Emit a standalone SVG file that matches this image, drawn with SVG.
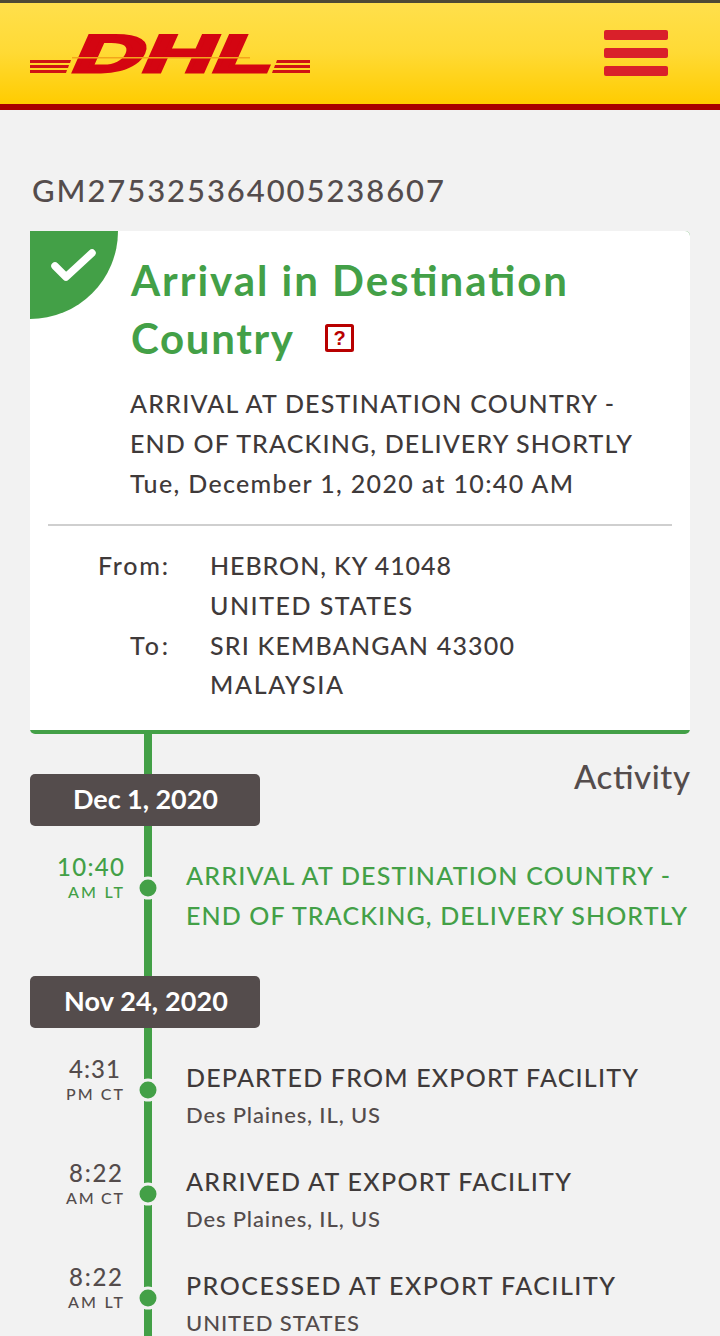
<svg xmlns="http://www.w3.org/2000/svg" width="720" height="1336" viewBox="0 0 720 1336">
<defs>
<linearGradient id="hdr" x1="0" y1="0" x2="0" y2="1"><stop offset="0" stop-color="#ffe04d"/><stop offset="0.5" stop-color="#ffda35"/><stop offset="1" stop-color="#ffcc00"/></linearGradient>
</defs>
<style>
text{font-family:"Lato","Open Sans",sans-serif;fill:#544c4c;font-weight:500}
.g{fill:#43a047}
.dk{fill:#3f3a3a}
.ttl{font-size:42px;font-weight:700;fill:#43a047}
.b{font-size:25px;fill:#3f3a3a}
.ev{font-size:25px}
.sub{font-size:22px}
.tm{font-size:24px}
.z{font-size:16px}
.pill{fill:#544c4c}
.pt{font-size:27px;fill:#fff;font-weight:700}
.dot{fill:#43a047;stroke:#f2f2f2;stroke-width:3}
.str{fill:#cf1414}
</style>
<rect width="720" height="1336" fill="#f2f2f2"/>
<g id="header">
<rect width="720" height="104" fill="url(#hdr)"/>
<rect width="720" height="3" fill="#4e4a35"/>
<rect y="104" width="720" height="6" fill="#a80000"/>
</g>
<g id="logo">
<text transform="translate(68 72) skewX(-24)" x="0" y="0" font-size="53" textLength="200" lengthAdjust="spacingAndGlyphs" style="font-family:'Liberation Sans',sans-serif;font-weight:700;fill:#d40511;stroke:#d40511;stroke-width:3">DHL</text>
<rect x="72" y="57" width="178" height="1.500" fill="#f3a51c"/>
<path class="str" d="M30 60h41l-1 3H30zM30 65h39l-1 3H30zM30 70h37l-1 3H30zM277 60h33v3h-34zM275 65h35v3h-36zM273 70h37v3h-38z"/>
</g>
<g id="menu">
<rect x="604" y="30" width="64" height="10" rx="2" fill="#d9202a"/>
<rect x="604" y="48" width="64" height="10" rx="2" fill="#d9202a"/>
<rect x="604" y="66" width="64" height="10" rx="2" fill="#d9202a"/>
</g>
<g id="tracking"><text x="32" y="202" font-size="31" textLength="412">GM275325364005238607</text></g>
<g id="connectors">
<rect x="144" y="730" width="8" height="606" fill="#43a047"/>
</g>
<g id="card">
<rect x="30" y="231" width="660" height="503" rx="5" fill="#43a047"/>
<path d="M35 231H685a5 5 0 0 1 5 5V730H30V236a5 5 0 0 1 5-5z" fill="#fff"/>
<path d="M30 231H118A88 88 0 0 1 30 319z" fill="#43a047"/>
<path d="M55 266l11 11 26-24" fill="none" stroke="#fff" stroke-width="7.500" stroke-linecap="round" stroke-linejoin="round"/>
<text class="ttl" x="131" y="296" textLength="436">Arrival in Destination</text>
<text class="ttl" x="131" y="354" textLength="162">Country</text>
<rect x="326.500" y="325.500" width="26" height="25" rx="1" fill="#fff" stroke="#b80000" stroke-width="3"/>
<text x="339.500" y="345" font-size="20" text-anchor="middle" style="fill:#b80000;font-weight:900;font-family:'Liberation Sans',sans-serif">?</text>
<text class="b" x="130" y="413" textLength="484">ARRIVAL AT DESTINATION COUNTRY -</text>
<text class="b" x="130" y="453" textLength="502">END OF TRACKING, DELIVERY SHORTLY</text>
<text class="b" x="130" y="493" textLength="443">Tue, December 1, 2020 at 10:40 AM</text>
<rect x="48" y="524" width="624" height="2" fill="#cfcfcf"/>
<text class="b" x="98" y="575" textLength="70">From:</text>
<text class="b" x="210" y="575" textLength="241">HEBRON, KY 41048</text>
<text class="b" x="210" y="615" textLength="202">UNITED STATES</text>
<text class="b" x="130" y="655" textLength="38">To:</text>
<text class="b" x="210" y="655" textLength="304">SRI KEMBANGAN 43300</text>
<text class="b" x="210" y="694" textLength="133">MALAYSIA</text>
</g>
<g id="activity"><text x="574" y="789" font-size="33" textLength="116">Activity</text></g>
<g id="date-dec1">
<rect class="pill" x="30" y="774" width="230" height="52" rx="5"/>
<text class="pt" x="73" y="809" textLength="145">Dec 1, 2020</text>
</g>
<g id="event-arrival">
<circle class="dot" cx="148" cy="888" r="10"/>
<text class="tm" x="57" y="876" textLength="67" style="fill:#43a047">10:40</text>
<text class="z" x="68" y="898" textLength="55" style="fill:#43a047">AM LT</text>
<text class="ev g" x="186" y="885" textLength="484">ARRIVAL AT DESTINATION COUNTRY -</text>
<text class="ev g" x="186" y="925" textLength="501">END OF TRACKING, DELIVERY SHORTLY</text>
</g>
<g id="date-nov24">
<rect class="pill" x="30" y="976" width="230" height="52" rx="5"/>
<text class="pt" x="64" y="1011" textLength="164">Nov 24, 2020</text>
</g>
<g id="event-departed">
<circle class="dot" cx="148" cy="1090" r="10"/>
<text class="tm" x="69" y="1078" textLength="51">4:31</text>
<text class="z" x="66" y="1100" textLength="57">PM CT</text>
<text class="ev dk" x="186" y="1087" textLength="452">DEPARTED FROM EXPORT FACILITY</text>
<text class="sub" x="186" y="1123" textLength="194">Des Plaines, IL, US</text>
</g>
<g id="event-arrived">
<circle class="dot" cx="148" cy="1194" r="10"/>
<text class="tm" x="69" y="1182" textLength="53">8:22</text>
<text class="z" x="66" y="1204" textLength="57">AM CT</text>
<text class="ev dk" x="186" y="1191" textLength="385">ARRIVED AT EXPORT FACILITY</text>
<text class="sub" x="186" y="1227" textLength="194">Des Plaines, IL, US</text>
</g>
<g id="event-processed">
<circle class="dot" cx="148" cy="1298" r="10"/>
<text class="tm" x="69" y="1286" textLength="53">8:22</text>
<text class="z" x="68" y="1308" textLength="55">AM LT</text>
<text class="ev dk" x="186" y="1295" textLength="429">PROCESSED AT EXPORT FACILITY</text>
<text class="sub" x="186" y="1331" textLength="173">UNITED STATES</text>
</g>
</svg>
